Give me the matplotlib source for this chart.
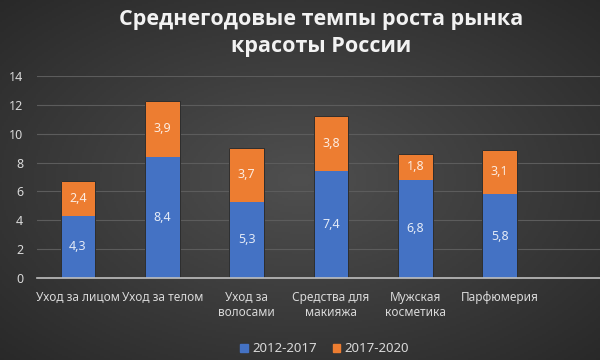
import numpy as np
import matplotlib.pyplot as plt
from matplotlib.patches import Patch

categories = ["Уход за лицом", "Уход за телом", "Уход за\nволосами",
              "Средства для\nмакияжа", "Мужская\nкосметика", "Парфюмерия"]
series_names = ["2012-2017", "2017-2020"]
vals_2012_2017 = [4.3, 8.4, 5.3, 7.4, 6.8, 5.8]
vals_2017_2020 = [2.4, 3.9, 3.7, 3.8, 1.8, 3.1]
y_ticks = [0, 2, 4, 6, 8, 10, 12, 14]

plt.rcParams['font.family'] = ['Noto Sans', 'DejaVu Sans']

blue = '#4472C4'
orange = '#ED7D31'
txt = '#d9d9d9'

fig = plt.figure(figsize=(6, 3.6), dpi=100)

# radial gradient background
bg = fig.add_axes([0, 0, 1, 1], zorder=-10)
gx, gy = np.meshgrid(np.linspace(-1, 1, 300), np.linspace(-1, 1, 180))
r = np.sqrt(gx**2 + gy**2) / np.sqrt(2)
shade = 0.31 - 0.15 * r
bg.imshow(np.dstack([shade, shade, shade]), aspect='auto', extent=[0, 1, 0, 1])
bg.axis('off')

ax = fig.add_axes([37/600, 1 - 278/360, 1 - 37/600, (278 - 76)/360])
ax.patch.set_alpha(0)
x = np.arange(len(categories))
w = 0.41
b1 = ax.bar(x, vals_2012_2017, w, color=blue, linewidth=0, zorder=3)
b2 = ax.bar(x, vals_2017_2020, w, bottom=vals_2012_2017, color=orange,
            linewidth=0, zorder=3)
# thin dark outline round the whole column
tot = np.array(vals_2012_2017) + np.array(vals_2017_2020)
ax.bar(x, tot, w, fill=False, edgecolor='#2e2e2e', linewidth=0.7, zorder=3.5)

for bars, vals, base in [(b1, vals_2012_2017, [0]*6), (b2, vals_2017_2020, vals_2012_2017)]:
    for rect, v, b in zip(bars, vals, base):
        ax.text(rect.get_x() + rect.get_width()/2, b + v/2, f"{v:.1f}".replace('.', ','),
                ha='center', va='center', color='white', alpha=0.85, fontsize=9, zorder=4)

ax.set_ylim(0, 14)
ax.set_xlim(-0.486, 6.19)
ax.set_yticks(y_ticks)
ax.set_xticks(x)
ax.set_xticklabels(categories, color=txt, fontsize=8.5, linespacing=1.25)
ax.tick_params(axis='x', length=0, pad=9)
ax.tick_params(axis='y', length=0, pad=10, labelcolor=txt, labelsize=9)
ax.grid(axis='y', color='#5c5c5c', linewidth=0.8, zorder=0)
for s in ['top', 'right', 'left']:
    ax.spines[s].set_visible(False)
ax.spines['bottom'].set_color('#bfbfbf')
ax.spines['bottom'].set_linewidth(1.2)
ax.spines['bottom'].set_zorder(5)

fig.text(0.535, 1 - 33/360, "Среднегодовые темпы роста рынка\nкрасоты России",
         ha='center', va='center', color='#f2f2f2', fontsize=15.5, fontweight='bold',
         family=['Open Sans', 'DejaVu Sans'], linespacing=1.35)

handles = [Patch(color=blue), Patch(color=orange)]
fig.legend(handles, series_names, loc='center', bbox_to_anchor=(0.541, 1 - 349/360),
           ncol=2, frameon=False, fontsize=9.5, labelcolor=txt, handlelength=0.6,
           handleheight=0.6, handletextpad=0.3, columnspacing=1.2)

fig.savefig('out.png', dpi=100)
